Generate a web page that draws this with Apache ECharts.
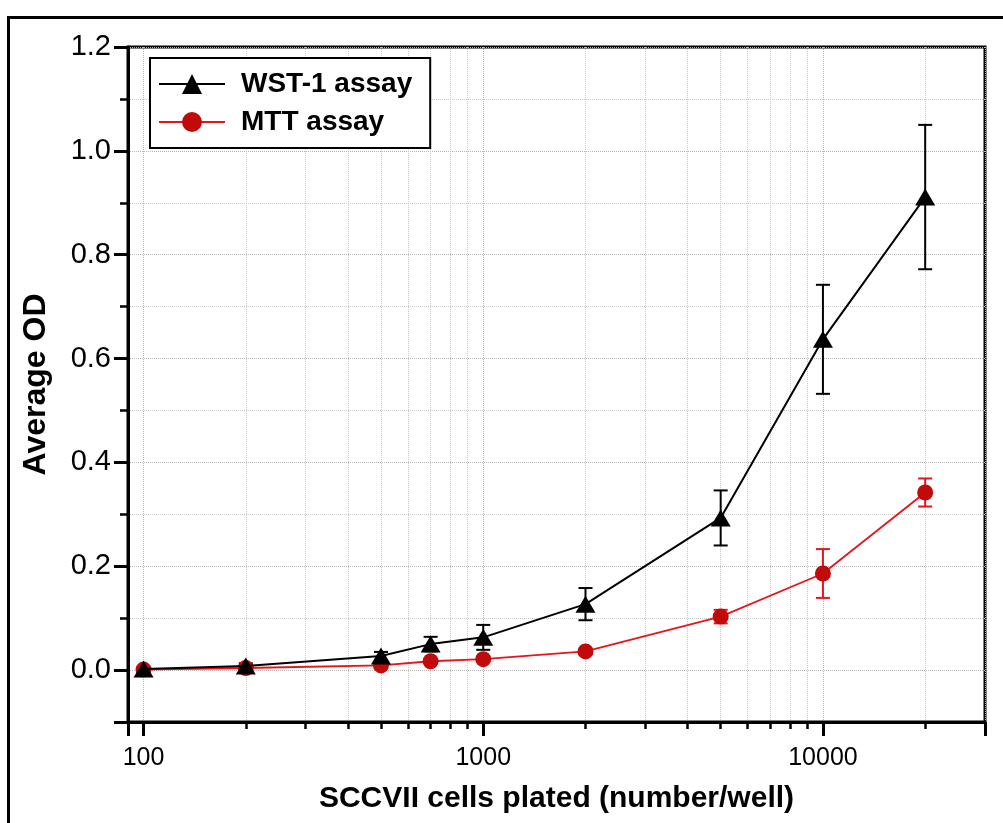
<!DOCTYPE html>
<html>
<head>
<meta charset="utf-8">
<script src="https://cdn.jsdelivr.net/npm/echarts@6/dist/echarts.min.js"></script>
<style>
html,body{margin:0;padding:0;background:#fff;}
#chart{width:1003px;height:823px;}
</style>
</head>
<body>
<div id="chart"></div>
<script>
// ---- data ----
const cellsPlated = [100, 200, 500, 700, 1000, 2000, 5000, 10000, 20000];
const wstMean = [0.002, 0.008, 0.027, 0.050, 0.063, 0.127, 0.293, 0.637, 0.911];
const wstErr  = [0.004, 0.005, 0.008, 0.014, 0.024, 0.031, 0.053, 0.105, 0.139];
const mttMean = [0.001, 0.004, 0.009, 0.017, 0.021, 0.036, 0.103, 0.186, 0.342];
const mttErr  = [0.003, 0.003, 0.003, 0.004, 0.005, 0.005, 0.013, 0.047, 0.027];
const seriesNames = ['WST-1 assay', 'MTT assay'];
const xTitle = 'SCCVII cells plated (number/well)';
const yTitle = 'Average OD';

const FONT = "'Liberation Sans', Arial, Helvetica, sans-serif";
const BLACK = '#000000';
const RED_LINE = '#e8141b';
const RED_DOT = '#c10b0b';

function pts(mean) { return cellsPlated.map((x, i) => [x, mean[i]]); }
function errPts(mean, err) { return cellsPlated.map((x, i) => [x, mean[i] - err[i], mean[i] + err[i]]); }

function errorRenderer(color, lw) {
  return function (params, api) {
    const x = api.value(0);
    const top = api.coord([x, api.value(2)]);
    const bot = api.coord([x, api.value(1)]);
    const hw = 7;
    const st = { stroke: color, lineWidth: lw };
    return {
      type: 'group',
      children: [
        { type: 'line', shape: { x1: top[0], y1: top[1], x2: bot[0], y2: bot[1] }, style: st },
        { type: 'line', shape: { x1: top[0] - hw, y1: top[1], x2: top[0] + hw, y2: top[1] }, style: st },
        { type: 'line', shape: { x1: bot[0] - hw, y1: bot[1], x2: bot[0] + hw, y2: bot[1] }, style: st }
      ]
    };
  };
}

const chart = echarts.init(document.getElementById('chart'), null, { renderer: 'canvas' });
chart.setOption({
  backgroundColor: '#fff',
  animation: false,
  graphic: [{
    type: 'rect', left: 6, top: 15, shape: { width: 1010, height: 830 },
    style: { fill: 'none', stroke: '#000', lineWidth: 3 }, z: -10
  }],
  grid: {
    left: 128, top: 47, right: 18, bottom: 101,
    show: true, borderColor: '#000', borderWidth: 3, backgroundColor: '#fff'
  },
  legend: {
    data: seriesNames,
    orient: 'vertical',
    left: 150, top: 58,
    itemWidth: 66, itemHeight: 25, itemGap: 10,
    padding: [12, 18, 12, 8],
    borderColor: '#000', borderWidth: 2,
    backgroundColor: '#fff',
    textStyle: { fontFamily: FONT, fontSize: 28, fontWeight: 'bold', color: '#000', padding: [0, 0, 0, 11] }
  },
  xAxis: {
    type: 'log', logBase: 10, min: 90, max: 30000,
    name: xTitle, nameLocation: 'middle', nameGap: 62,
    nameTextStyle: { fontFamily: FONT, fontSize: 30, fontWeight: 'bold', color: '#000' },
    axisLine: { onZero: false, lineStyle: { color: '#000', width: 3 } },
    axisTick: { show: true, inside: false, length: 14, lineStyle: { color: '#000', width: 3 } },
    minorTick: { show: true, splitNumber: 9, length: 7, lineStyle: { color: '#000', width: 2.5 } },
    axisLabel: {
      fontFamily: FONT, fontSize: 25, color: '#000', margin: 24,
      showMinLabel: false, showMaxLabel: false,
      formatter: function (v) {
        const l = Math.log10(v);
        return Math.abs(l - Math.round(l)) < 1e-6 ? String(Math.round(v)) : '';
      }
    },
    splitLine: { show: true, lineStyle: { color: '#b8b8b8', type: 'dotted', width: 1 } },
    minorSplitLine: { show: true, lineStyle: { color: '#c8c8c8', type: 'dotted', width: 1 } }
  },
  yAxis: {
    type: 'value', min: -0.1, max: 1.2, splitNumber: 6,
    name: yTitle, nameLocation: 'middle', nameGap: 76,
    nameTextStyle: { fontFamily: FONT, fontSize: 32, fontWeight: 'bold', color: '#000' },
    axisLine: { show: true, onZero: false, lineStyle: { color: '#000', width: 3 } },
    axisTick: { show: true, inside: false, length: 14, lineStyle: { color: '#000', width: 3 } },
    minorTick: { show: true, splitNumber: 2, length: 8, lineStyle: { color: '#000', width: 2.5 } },
    axisLabel: {
      fontFamily: FONT, fontSize: 29, color: '#000', margin: 17,
      formatter: function (v) { return v < -0.05 ? '' : v.toFixed(1); }
    },
    splitLine: { show: true, lineStyle: { color: '#b8b8b8', type: 'dotted', width: 1 } },
    minorSplitLine: { show: true, lineStyle: { color: '#c8c8c8', type: 'dotted', width: 1 } }
  },
  series: [
    {
      name: 'WST-1 err', type: 'custom', data: errPts(wstMean, wstErr),
      encode: { x: 0, y: [1, 2] }, renderItem: errorRenderer(BLACK, 2), z: 3, silent: true
    },
    {
      name: 'MTT err', type: 'custom', data: errPts(mttMean, mttErr),
      encode: { x: 0, y: [1, 2] }, renderItem: errorRenderer(RED_LINE, 2), z: 3, silent: true
    },
    {
      name: seriesNames[0], type: 'line', data: pts(wstMean),
      symbol: 'triangle', symbolSize: [20, 17],
      itemStyle: { color: BLACK },
      lineStyle: { color: BLACK, width: 2 }, z: 5
    },
    {
      name: seriesNames[1], type: 'line', data: pts(mttMean),
      symbol: 'circle', symbolSize: 16,
      itemStyle: { color: RED_DOT },
      lineStyle: { color: RED_LINE, width: 1.8 }, z: 4
    }
  ]
});
</script>
</body>
</html>
